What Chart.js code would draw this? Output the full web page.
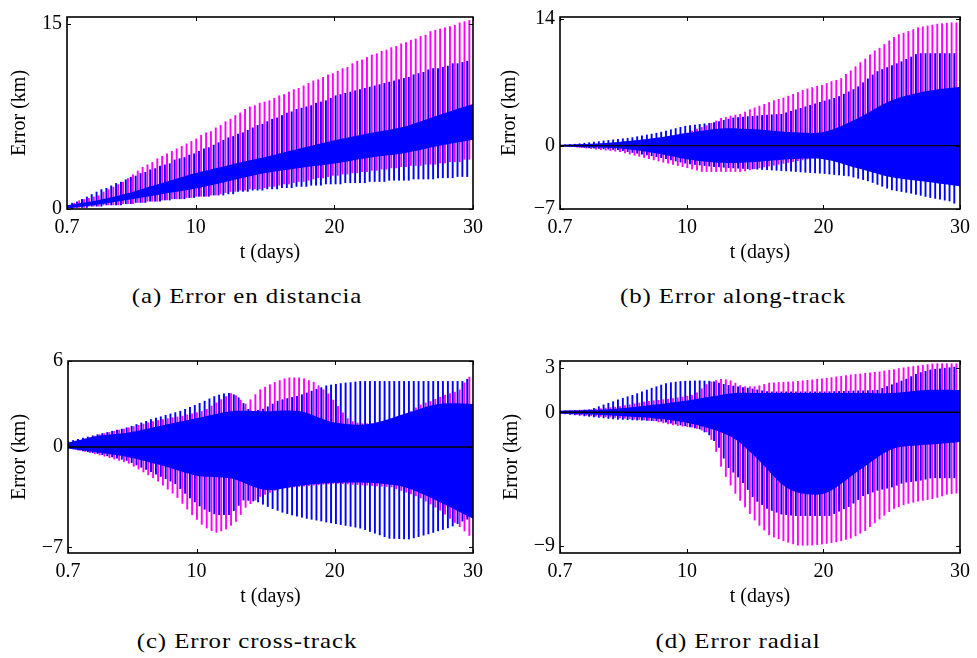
<!DOCTYPE html>
<html><head><meta charset="utf-8">
<script src="https://cdn.jsdelivr.net/npm/chart.js@4.4.1/dist/chart.umd.min.js"></script>
<style>
body{margin:0;background:#fff;width:977px;height:658px;position:relative;overflow:hidden}
canvas{position:absolute}
.cap{position:absolute;font-family:"Liberation Serif",serif;font-size:22px;letter-spacing:0.8px;white-space:nowrap;transform:translate(-50%,-50%) scaleX(1.13);color:#000}
</style></head><body>
<canvas id="ca" width="490" height="280" style="left:0;top:0"></canvas>
<canvas id="cb" width="487" height="280" style="left:490px;top:0"></canvas>
<canvas id="cc" width="490" height="280" style="left:0;top:344px"></canvas>
<canvas id="cd" width="487" height="280" style="left:490px;top:344px"></canvas>
<div class="cap" style="left:247px;top:296px">(a) Error en distancia</div>
<div class="cap" style="left:733px;top:296px">(b) Error along-track</div>
<div class="cap" style="left:247px;top:641px">(c) Error cross-track</div>
<div class="cap" style="left:738px;top:641px">(d) Error radial</div>
<script>
// ---- spike times (days), one per orbit ----
const spikeDays = [0.80,1.15,1.50,1.86,2.21,2.56,2.91,3.26,3.62,3.97,
4.32,4.67,5.02,5.38,5.73,6.08,6.43,6.78,7.14,7.49,
7.84,8.19,8.54,8.90,9.25,9.60,9.95,10.30,10.66,11.01,
11.36,11.71,12.06,12.42,12.77,13.12,13.47,13.82,14.18,14.53,
14.88,15.23,15.58,15.94,16.29,16.64,16.99,17.34,17.70,18.05,
18.40,18.75,19.10,19.46,19.81,20.16,20.51,20.86,21.22,21.57,
21.92,22.27,22.62,22.98,23.33,23.68,24.03,24.38,24.74,25.09,
25.44,25.79,26.14,26.50,26.85,27.20,27.55,27.90,28.26,28.61,
28.96,29.31,29.66];

// ---- (a) distance error ----
const aMagHi = [0.3,0.5,0.7,0.8,0.9,1.0,1.1,1.4,1.6,1.8,
2.0,2.2,2.5,2.8,3.1,3.4,3.6,3.8,4.1,4.3,
4.5,4.7,4.9,5.1,5.3,5.5,5.7,6.0,6.2,6.3,
6.6,6.8,7.1,7.3,7.6,7.8,8.1,8.3,8.4,8.6,
8.7,8.8,9.0,9.2,9.3,9.5,9.7,9.8,10.0,10.2,
10.4,10.5,10.7,10.9,11.0,11.2,11.4,11.5,11.8,12.0,
12.1,12.3,12.5,12.6,12.8,12.9,13.1,13.2,13.4,13.5,
13.7,13.8,14.0,14.1,14.4,14.5,14.6,14.7,14.8,14.9,
15.1,15.2,15.3];
const aMagLo = [0.1,0.1,0.1,0.1,0.2,0.2,0.2,0.3,0.3,0.3,
0.3,0.4,0.4,0.4,0.5,0.5,0.6,0.6,0.6,0.7,
0.7,0.8,0.8,0.8,0.9,0.9,1.0,1.0,1.0,1.1,
1.1,1.2,1.3,1.4,1.4,1.5,1.5,1.6,1.6,1.6,
1.7,1.8,1.8,1.9,2.0,2.0,2.1,2.2,2.2,2.3,
2.4,2.5,2.5,2.6,2.7,2.7,2.8,2.8,2.9,2.9,
3.0,3.0,3.1,3.1,3.2,3.2,3.3,3.3,3.4,3.4,
3.5,3.5,3.5,3.6,3.6,3.6,3.7,3.7,3.8,3.8,
3.8,4.0,4.0];
const aBlueHi = [0.3,0.5,0.6,0.8,1.0,1.2,1.4,1.6,1.7,1.9,
2.1,2.2,2.4,2.6,2.7,2.9,3.0,3.2,3.3,3.5,
3.6,3.7,4.0,4.1,4.2,4.4,4.5,4.7,4.9,5.0,
5.2,5.4,5.6,5.8,5.9,6.1,6.2,6.4,6.6,6.8,
6.9,7.1,7.3,7.4,7.6,7.8,7.9,8.1,8.2,8.3,
8.4,8.6,8.7,8.8,9.0,9.2,9.3,9.4,9.5,9.6,
9.7,9.8,9.9,10.0,10.1,10.2,10.3,10.4,10.5,10.6,
10.7,10.9,11.0,11.1,11.3,11.4,11.4,11.5,11.6,11.8,
11.8,11.9,12.0];
const aBlueLo = [0.0,0.0,0.1,0.1,0.1,0.2,0.2,0.2,0.3,0.3,
0.3,0.3,0.4,0.4,0.5,0.5,0.5,0.6,0.6,0.6,
0.7,0.7,0.8,0.8,0.8,0.9,0.9,1.0,1.0,1.0,
1.1,1.1,1.1,1.2,1.2,1.4,1.4,1.4,1.5,1.5,
1.5,1.6,1.6,1.6,1.7,1.7,1.7,1.8,1.8,1.8,
1.9,1.9,1.9,2.0,2.0,2.0,2.0,2.1,2.1,2.1,
2.1,2.1,2.2,2.2,2.2,2.2,2.3,2.3,2.3,2.3,
2.3,2.4,2.4,2.4,2.4,2.4,2.5,2.5,2.5,2.5,
2.6,2.6,2.6];
const aCoreDays = [0.7,3,5,7.5,10,12.5,15,17.5,20,22.5,25,27.5,30];
const aCoreHi = [0.3,0.73,1.25,2.08,2.91,3.59,4.21,4.89,5.56,6.14,6.66,7.6,8.5];
const aCoreLo = [0.05,0.36,0.73,1.2,1.66,2.29,2.91,3.33,3.69,4.16,4.52,5.1,5.6];

// ---- (b) along-track error ----
const bMagHi = [0.05,0.07,0.08,0.1,0.11,0.13,0.15,0.18,0.21,0.25,
0.28,0.32,0.35,0.42,0.48,0.54,0.6,0.66,0.73,0.8,
0.87,0.94,1.01,1.08,1.19,1.31,1.43,1.65,1.85,2.05,
2.25,2.5,2.75,3.05,3.15,3.3,3.4,3.5,3.75,4.0,
4.2,4.4,4.6,4.8,5.0,5.15,5.3,5.5,5.7,5.9,
6.15,6.3,6.45,6.6,6.7,6.9,7.1,7.25,7.45,7.9,
8.3,8.75,9.2,9.6,10.05,10.5,10.8,11.2,11.6,12.0,
12.3,12.45,12.65,12.85,13.05,13.15,13.25,13.35,13.45,13.5,
13.55,13.6,13.6];
const bMagLo = [-0.05,-0.1,-0.16,-0.21,-0.27,-0.32,-0.38,-0.43,-0.49,-0.54,
-0.6,-0.65,-0.71,-0.84,-0.97,-1.1,-1.22,-1.35,-1.48,-1.61,
-1.74,-1.87,-1.99,-2.12,-2.24,-2.36,-2.48,-2.62,-2.76,-2.9,
-2.9,-2.9,-2.9,-2.9,-2.9,-2.9,-2.9,-2.9,-2.84,-2.71,
-2.59,-2.49,-2.39,-2.29,-2.2,-2.1,-2.0,-1.9,-1.8,-1.71,
-1.61,-1.52,-1.4,-1.2,-1.0,-0.9,-0.9,-0.95,-0.95,-1.0,
-1.0,-1.05,-1.1,-1.15,-1.2,-1.3,-1.35,-1.4,-1.45,-1.55,
-1.7,-1.9,-2.05,-2.25,-2.45,-2.6,-2.8,-2.95,-3.15,-3.3,
-3.5,-3.65,-3.85];
const bBlueHi = [0.1,0.13,0.16,0.19,0.24,0.3,0.36,0.42,0.48,0.55,
0.61,0.67,0.73,0.79,0.85,0.92,1.02,1.11,1.21,1.31,
1.41,1.52,1.65,1.79,1.92,2.05,2.18,2.25,2.31,2.38,
2.44,2.5,2.57,2.7,2.83,2.96,3.09,3.14,3.19,3.24,
3.28,3.32,3.36,3.4,3.44,3.47,3.5,3.66,3.83,3.99,
4.15,4.32,4.48,4.65,4.81,4.96,5.1,5.25,5.46,5.72,
5.97,6.23,6.54,6.98,7.41,7.84,8.22,8.44,8.65,8.87,
9.08,9.3,9.56,9.82,10.1,10.2,10.2,10.2,10.2,10.2,
10.2,10.2,10.2];
const bBlueLo = [-0.05,-0.09,-0.13,-0.16,-0.2,-0.24,-0.28,-0.31,-0.35,-0.39,
-0.43,-0.46,-0.5,-0.6,-0.7,-0.79,-0.88,-0.97,-1.07,-1.16,
-1.26,-1.37,-1.49,-1.62,-1.74,-1.86,-1.98,-2.05,-2.12,-2.18,
-2.24,-2.3,-2.36,-2.4,-2.43,-2.47,-2.5,-2.53,-2.56,-2.59,
-2.62,-2.64,-2.67,-2.7,-2.73,-2.76,-2.8,-2.83,-2.87,-2.9,
-2.94,-2.98,-3.01,-3.05,-3.08,-3.12,-3.18,-3.23,-3.28,-3.34,
-3.39,-3.51,-3.65,-3.79,-3.93,-4.11,-4.32,-4.53,-4.74,-4.92,
-5.02,-5.11,-5.2,-5.3,-5.42,-5.53,-5.65,-5.77,-5.87,-5.96,
-6.06,-6.15,-6.4];
const bCoreDays = [0.7,3,5,7.5,10,12.5,15,17.5,20,22.5,25,27.5,30];
const bCoreHi = [0.1,0.2,0.4,0.8,1.4,1.9,1.8,1.5,1.5,3.0,5.0,6.0,6.5];
const bCoreLo = [-0.1,-0.2,-0.3,-0.8,-1.5,-1.9,-1.8,-1.5,-1.5,-2.5,-3.5,-4.0,-4.5];

// ---- (c) cross-track error ----
const cMagHi = [0.3,0.39,0.49,0.59,0.68,0.78,0.88,0.96,1.04,1.12,
1.2,1.27,1.36,1.45,1.53,1.62,1.71,1.8,1.87,1.94,
2.0,2.06,2.12,2.18,2.26,2.34,2.42,2.5,2.65,2.88,
3.1,3.33,3.54,3.75,3.6,3.3,3.02,3.32,3.68,4.02,
4.2,4.37,4.53,4.66,4.78,4.85,4.85,4.85,4.78,4.66,
4.54,4.3,4.02,3.73,3.3,2.85,2.4,2.0,1.8,1.7,
1.65,1.65,1.65,1.7,1.75,1.8,1.9,2.0,2.1,2.25,
2.5,2.75,2.95,3.1,3.2,3.35,3.5,3.65,3.75,3.85,
4.0,4.5,4.9];
const cMagLo = [-0.1,-0.18,-0.26,-0.34,-0.42,-0.5,-0.58,-0.67,-0.77,-0.87,
-0.96,-1.06,-1.16,-1.37,-1.57,-1.77,-1.97,-2.17,-2.41,-2.69,
-2.97,-3.25,-3.55,-3.96,-4.36,-4.75,-5.08,-5.42,-5.68,-5.86,
-5.98,-5.88,-5.75,-5.49,-5.22,-4.74,-4.24,-3.98,-3.73,-3.48,
-3.33,-3.19,-3.05,-2.92,-2.87,-2.84,-2.81,-2.78,-2.75,-2.72,
-2.69,-2.66,-2.63,-2.6,-2.57,-2.56,-2.58,-2.6,-2.63,-2.65,
-2.67,-2.69,-2.71,-2.74,-2.76,-2.78,-2.81,-2.94,-3.06,-3.18,
-3.3,-3.43,-3.58,-3.8,-4.01,-4.22,-4.44,-4.72,-5.01,-5.29,
-5.59,-5.89,-6.2];
const cBlueHi = [0.4,0.48,0.56,0.64,0.72,0.8,0.88,0.96,1.04,1.12,
1.2,1.27,1.36,1.47,1.59,1.7,1.81,1.93,2.04,2.13,
2.23,2.33,2.42,2.52,2.65,2.79,2.93,3.07,3.22,3.38,
3.54,3.65,3.74,3.77,3.67,3.46,3.06,2.65,2.5,2.58,
2.67,2.83,3.02,3.22,3.32,3.4,3.48,3.56,3.67,3.79,
3.92,4.04,4.16,4.29,4.35,4.4,4.45,4.49,4.52,4.56,
4.6,4.6,4.6,4.6,4.6,4.6,4.6,4.6,4.6,4.6,
4.6,4.6,4.6,4.6,4.6,4.6,4.6,4.6,4.6,4.6,
4.6,4.6,4.75];
const cBlueLo = [-0.1,-0.16,-0.23,-0.29,-0.36,-0.42,-0.48,-0.56,-0.64,-0.72,
-0.8,-0.88,-0.96,-1.12,-1.28,-1.44,-1.59,-1.75,-1.92,-2.08,
-2.24,-2.41,-2.59,-2.93,-3.26,-3.58,-3.86,-4.14,-4.37,-4.53,
-4.69,-4.75,-4.75,-4.75,-4.47,-4.1,-3.73,-3.75,-3.8,-3.86,
-4.02,-4.18,-4.33,-4.45,-4.58,-4.68,-4.77,-4.85,-4.93,-5.01,
-5.07,-5.13,-5.19,-5.26,-5.32,-5.38,-5.44,-5.5,-5.56,-5.62,
-5.69,-5.79,-5.92,-6.04,-6.16,-6.29,-6.4,-6.41,-6.42,-6.44,
-6.45,-6.37,-6.28,-6.18,-6.09,-5.99,-5.88,-5.78,-5.67,-5.54,
-5.37,-5.2,-5.07];
const cCoreDays = [0.7,3,5,7.5,10,12.5,15,17.5,20,22.5,25,27.5,30];
const cCoreHi = [0.3,0.8,1.0,1.5,2.0,2.5,2.5,2.5,1.7,1.6,2.3,3.0,3.0];
const cCoreLo = [-0.1,-0.4,-0.7,-1.3,-2.0,-2.2,-3.0,-2.7,-2.5,-2.5,-2.8,-3.8,-5.0];

// ---- (d) radial error ----
const dMagHi = [0.1,0.12,0.13,0.15,0.16,0.18,0.2,0.23,0.26,0.3,
0.33,0.37,0.4,0.47,0.53,0.59,0.65,0.71,0.76,0.8,
0.83,0.87,0.9,0.94,0.99,1.05,1.11,1.17,1.33,1.61,
1.89,2.07,2.17,2.25,2.22,2.15,1.99,1.83,1.75,1.75,
1.75,1.81,1.9,1.99,2.01,2.03,2.05,2.07,2.08,2.11,
2.14,2.18,2.21,2.25,2.28,2.32,2.36,2.41,2.45,2.5,
2.54,2.58,2.61,2.65,2.68,2.72,2.75,2.81,2.86,2.91,
2.97,3.02,3.07,3.11,3.16,3.2,3.24,3.29,3.3,3.3,
3.3,3.3,3.3];
const dMagLo = [-0.1,-0.12,-0.15,-0.18,-0.2,-0.23,-0.25,-0.28,-0.3,-0.33,
-0.35,-0.38,-0.4,-0.43,-0.46,-0.49,-0.51,-0.54,-0.57,-0.6,
-0.67,-0.74,-0.81,-0.88,-0.93,-0.96,-1.0,-1.03,-1.11,-1.23,
-1.35,-1.86,-2.67,-3.68,-4.36,-4.94,-5.5,-5.97,-6.42,-6.86,
-7.3,-7.66,-7.97,-8.3,-8.45,-8.57,-8.7,-8.8,-8.91,-9.0,
-9.0,-9.0,-8.99,-8.95,-8.92,-8.88,-8.82,-8.77,-8.7,-8.61,
-8.52,-8.37,-8.19,-8.01,-7.75,-7.49,-7.23,-6.98,-6.73,-6.52,
-6.4,-6.27,-6.17,-6.1,-6.03,-5.97,-5.92,-5.86,-5.77,-5.67,
-5.56,-5.52,-5.48];
const dBlueHi = [0.1,0.12,0.13,0.15,0.16,0.18,0.2,0.28,0.4,0.52,
0.63,0.74,0.86,0.97,1.07,1.17,1.28,1.4,1.52,1.65,
1.75,1.86,1.96,2.02,2.06,2.1,2.12,2.13,2.14,2.15,
2.13,2.12,2.08,2.0,1.91,1.83,1.79,1.74,1.69,1.65,
1.59,1.53,1.47,1.41,1.4,1.4,1.4,1.4,1.4,1.4,
1.4,1.4,1.4,1.4,1.4,1.4,1.41,1.42,1.43,1.44,
1.45,1.46,1.47,1.47,1.48,1.49,1.51,1.63,1.76,1.88,
2.0,2.13,2.26,2.43,2.58,2.7,2.79,2.88,2.93,2.96,
3.0,3.03,3.07];
const dBlueLo = [-0.1,-0.13,-0.17,-0.2,-0.23,-0.27,-0.3,-0.34,-0.37,-0.4,
-0.44,-0.47,-0.5,-0.51,-0.52,-0.54,-0.55,-0.56,-0.57,-0.58,
-0.6,-0.63,-0.69,-0.76,-0.82,-0.88,-0.94,-1.01,-1.08,-1.15,
-1.35,-1.55,-1.94,-2.4,-3.12,-3.76,-4.07,-4.39,-4.78,-5.24,
-5.73,-6.04,-6.26,-6.51,-6.65,-6.77,-6.9,-6.93,-6.97,-7.0,
-7.0,-7.0,-7.0,-7.0,-7.0,-7.0,-7.0,-6.86,-6.7,-6.54,
-6.39,-6.16,-5.92,-5.66,-5.53,-5.41,-5.29,-5.22,-5.15,-5.07,
-4.95,-4.82,-4.74,-4.7,-4.66,-4.61,-4.54,-4.47,-4.45,-4.45,
-4.45,-4.45,-4.45];
const dCoreDays = [0.7,3,5,7.5,10,12,13.5,15,17.5,20,22.5,25,27.5,30];
const dCoreHi = [0.1,0.15,0.25,0.5,0.8,1.1,1.3,1.3,1.3,1.3,1.3,1.3,1.5,1.5];
const dCoreLo = [-0.1,-0.15,-0.25,-0.4,-0.7,-1.2,-1.8,-3.0,-5.2,-5.5,-4.0,-2.5,-2.2,-2.0];

// ---- axes ----
const zeroDays = [0.7, 30];
const zeroVals = [0, 0];
const xTicks = [0.7, 10, 20, 30];
const xTickLabels = ['0.7', '10', '20', '30'];
const aYTicks = [0, 15];   const aYLabels = ['0', '15'];
const bYTicks = [-7, 0, 14]; const bYLabels = ['\u22127', '0', '14'];
const cYTicks = [-7, 0, 6];  const cYLabels = ['\u22127', '0', '6'];
const dYTicks = [-9, 0, 3];  const dYLabels = ['\u22129', '0', '3'];

const MAG = '#ff00ff', BLUE = '#0000ff';
const pts = (xs, ys) => xs.map((x, i) => ({x: x, y: ys[i]}));
const spans = (xs, lo, hi) => xs.map((x, i) => ({x: x, y: [lo[i], hi[i]]}));

const framePlugin = {
  id: 'frame',
  afterDatasetsDraw(chart) {
    const {ctx, chartArea: a} = chart;
    const xs = chart.scales.x, ys = chart.scales.y;
    ctx.save();
    ctx.strokeStyle = '#000';
    ctx.lineWidth = 1;
    ctx.beginPath();
    xs.ticks.forEach(t => {
      const p = Math.round(xs.getPixelForValue(t.value)) + 0.5;
      ctx.moveTo(p, a.bottom); ctx.lineTo(p, a.bottom - 4);
      ctx.moveTo(p, a.top); ctx.lineTo(p, a.top + 4);
    });
    ys.ticks.forEach(t => {
      const p = Math.round(ys.getPixelForValue(t.value)) + 0.5;
      ctx.moveTo(a.left, p); ctx.lineTo(a.left + 4, p);
      ctx.moveTo(a.right, p); ctx.lineTo(a.right - 4, p);
    });
    ctx.stroke();
    ctx.lineWidth = 1.6;
    ctx.strokeRect(a.left, a.top, a.right - a.left, a.bottom - a.top);
    ctx.restore();
  }
};

function build(id, p) {
  const datasets = [];
  if (p.zero) {
    datasets.push({type: 'line', data: pts(zeroDays, zeroVals), borderColor: '#000',
      borderWidth: 1.4, pointRadius: 0, fill: false, order: 0});
  }
  datasets.push({type: 'line', data: pts(p.coreDays, p.coreHi), borderColor: BLUE, borderWidth: 0,
    backgroundColor: BLUE, pointRadius: 0, tension: 0.3, fill: '+1', order: 1});
  datasets.push({type: 'line', data: pts(p.coreDays, p.coreLo), borderColor: BLUE, borderWidth: 0,
    pointRadius: 0, tension: 0.3, fill: false, order: 1});
  datasets.push({type: 'bar', data: spans(spikeDays, p.magLo, p.magHi), backgroundColor: MAG,
    borderWidth: 0, categoryPercentage: 0.88, barPercentage: 0.9, order: 3});
  datasets.push({type: 'bar', data: spans(spikeDays, p.blueLo, p.blueHi), backgroundColor: BLUE,
    borderWidth: 0, categoryPercentage: 0.88, barPercentage: 0.9, order: 2});

  return new Chart(document.getElementById(id), {
    type: 'bar',
    data: {datasets: datasets},
    plugins: [framePlugin],
    options: {
      responsive: false, animation: false, devicePixelRatio: 1,
      layout: {padding: {top: p.padTop, right: p.padRight, left: 0, bottom: 0}},
      plugins: {legend: {display: false}, tooltip: {enabled: false}},
      scales: {
        x: {
          type: 'linear', min: 0.7, max: 30, offset: false,
          grid: {display: false, drawTicks: false}, border: {display: false},
          afterBuildTicks: s => { s.ticks = xTicks.map(v => ({value: v})); },
          afterFit: s => { s.height = 71; },
          ticks: {autoSkip: false, maxRotation: 0, minRotation: 0, padding: 7, color: '#000',
            font: {family: 'Liberation Serif', size: 20},
            callback: (v, i) => xTickLabels[i]},
          title: {display: true, text: 't (days)', color: '#000',
            font: {family: 'Liberation Serif', size: 20},
            padding: {top: 0, bottom: 15}}
        },
        y: {
          type: 'linear', min: p.yMin, max: p.yMax, stacked: false,
          grid: {display: false, drawTicks: false}, border: {display: false},
          afterBuildTicks: s => { s.ticks = p.yTicks.map(v => ({value: v})); },
          afterFit: s => { s.width = p.yWidth; },
          ticks: {autoSkip: false, padding: 5, color: '#000',
            font: {family: 'Liberation Serif', size: 20},
            callback: (v, i) => p.yLabels[i]},
          title: {display: true, text: 'Error (km)', color: '#000',
            font: {family: 'Liberation Serif', size: 20},
            padding: {top: p.titlePad, bottom: 0}}
        }
      }
    }
  });
}

build('ca', {zero: false, coreDays: aCoreDays, coreHi: aCoreHi, coreLo: aCoreLo,
  magHi: aMagHi, magLo: aMagLo, blueHi: aBlueHi, blueLo: aBlueLo,
  yMin: 0, yMax: 15.55, yTicks: aYTicks, yLabels: aYLabels,
  padTop: 16, padRight: 16, yWidth: 67, titlePad: 7.5});
build('cb', {zero: true, coreDays: bCoreDays, coreHi: bCoreHi, coreLo: bCoreLo,
  magHi: bMagHi, magLo: bMagLo, blueHi: bBlueHi, blueLo: bBlueLo,
  yMin: -7, yMax: 14.2, yTicks: bYTicks, yLabels: bYLabels,
  padTop: 17, padRight: 12, yWidth: 70, titlePad: 8});
build('cc', {zero: true, coreDays: cCoreDays, coreHi: cCoreHi, coreLo: cCoreLo,
  magHi: cMagHi, magLo: cMagLo, blueHi: cBlueHi, blueLo: cBlueLo,
  yMin: -7.4, yMax: 6, yTicks: cYTicks, yLabels: cYLabels,
  padTop: 17, padRight: 16, yWidth: 68, titlePad: 7.5});
build('cd', {zero: true, coreDays: dCoreDays, coreHi: dCoreHi, coreLo: dCoreLo,
  magHi: dMagHi, magLo: dMagLo, blueHi: dBlueHi, blueLo: dBlueLo,
  yMin: -9.5, yMax: 3.46, yTicks: dYTicks, yLabels: dYLabels,
  padTop: 17, padRight: 12, yWidth: 70, titlePad: 9.5});
</script>
</body></html>
